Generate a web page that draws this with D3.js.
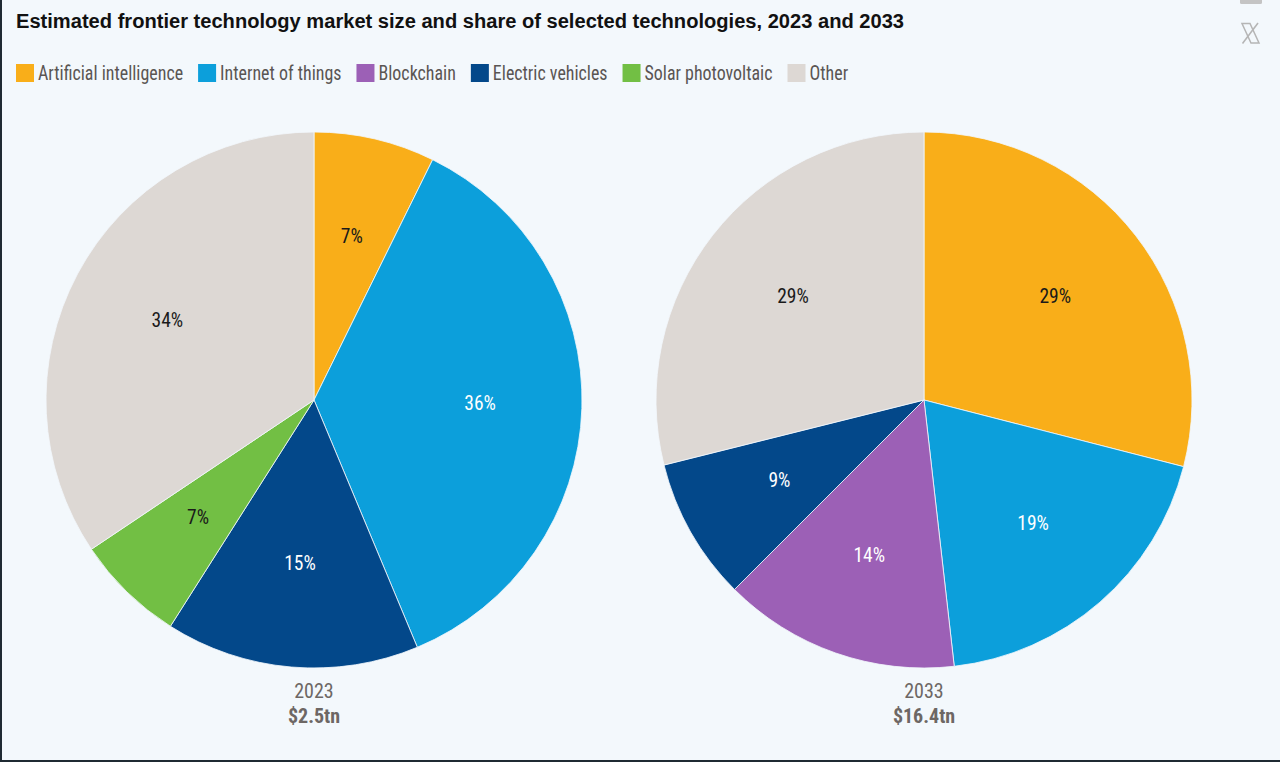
<!DOCTYPE html>
<html>
<head>
<meta charset="utf-8">
<script src="https://cdn.jsdelivr.net/npm/d3@7/dist/d3.min.js"></script>
<style>
  html, body { margin: 0; padding: 0; background: #f3f8fc; }
  svg { display: block; }
</style>
</head>
<body>
<svg id="chart" width="1280" height="762"></svg>
<script>
// ---- data ----
const categories = ["Artificial intelligence", "Internet of things", "Blockchain", "Electric vehicles", "Solar photovoltaic", "Other"];
const colors = ["#f9ae19", "#0c9fdb", "#9c60b6", "#03488a", "#72bf44", "#ddd8d4"];
const labelColors = ["#1a1a1a", "#ffffff", "#ffffff", "#ffffff", "#1a1a1a", "#1a1a1a"];
const years = ["2023", "2033"];
const totals = ["$2.5tn", "$16.4tn"];
const share2023 = [7.3, 36.4, 0, 15.3, 6.6, 34.4];
const share2033 = [29.0, 19.2, 14.3, 8.6, 0, 28.9];
const title = "Estimated frontier technology market size and share of selected technologies, 2023 and 2033";

const svg = d3.select("#chart");
const W = 1280, H = 762;
const narrow = "'Liberation Sans Narrow', 'Arial Narrow', 'Roboto Condensed', 'Liberation Sans', sans-serif";
const sans = "'Liberation Sans', Arial, Helvetica, sans-serif";

svg.append("rect").attr("width", W).attr("height", H).attr("fill", "#f3f8fc");
// borders
svg.append("rect").attr("x", 0).attr("y", 0).attr("width", 2).attr("height", H).attr("fill", "#1f2a33");
svg.append("rect").attr("x", 0).attr("y", H - 2).attr("width", W).attr("height", 2).attr("fill", "#1f2a33");

// title
const tt = svg.append("text").attr("x", 16).attr("y", 28)
  .attr("font-family", sans).attr("font-weight", "bold").attr("font-size", 20)
  .attr("fill", "#111").text(title);
const tw = tt.node().getComputedTextLength();
if (tw > 0) tt.attr("textLength", 888).attr("lengthAdjust", "spacingAndGlyphs");

// icons top right
svg.append("rect").attr("x", 1240).attr("y", -4).attr("width", 22).attr("height", 8).attr("rx", 1.5).attr("fill", "#c4c4c4");
const xg = svg.append("g").attr("stroke", "#b5b5b5").attr("fill", "none");
xg.append("path").attr("d", "M1242,23.5 L1250,23.5 L1259,43 L1251,43 Z").attr("stroke-width", 1.5);
xg.append("path").attr("d", "M1258,23 L1242.5,43.5").attr("stroke-width", 1.6);

// legend
const legend = svg.append("g").attr("transform", "translate(16,73)");
const sx = 0.92;
let lx = 0;
categories.forEach((c, i) => {
  const g = legend.append("g").attr("transform", `translate(${lx},0)`);
  g.append("rect").attr("x", 0).attr("y", -9).attr("width", 18).attr("height", 18).attr("fill", colors[i]);
  const t = g.append("text").attr("x", 0).attr("y", 6.5)
    .attr("transform", `translate(22,0) scale(${sx},1)`)
    .attr("font-family", narrow).attr("font-size", 19.5).attr("fill", "#5a5553").text(c);
  lx += 22 + t.node().getComputedTextLength() * sx + 15;
});

// pies
const R = 268;
const centers = [[314, 400], [924, 400]];
const series = [share2023, share2033];
const pie = d3.pie().sort(null).value(d => d.v);
const arc = d3.arc().innerRadius(0).outerRadius(R);
const labelArc = d3.arc().innerRadius(R * 0.62).outerRadius(R * 0.62);

series.forEach((vals, k) => {
  const data = vals.map((v, i) => ({ v, i })).filter(d => d.v > 0);
  const g = svg.append("g").attr("transform", `translate(${centers[k][0]},${centers[k][1]})`);
  const arcs = pie(data);
  g.selectAll("path").data(arcs).join("path")
    .attr("d", arc).attr("fill", d => colors[d.data.i])
    .attr("stroke", "#f3f8fc").attr("stroke-width", 1).attr("stroke-opacity", 0.8);
  g.selectAll("text.lbl").data(arcs).join("text").attr("class", "lbl")
    .attr("transform", d => { const c = labelArc.centroid(d); return `translate(${c[0]},${c[1] - 2})`; })
    .attr("text-anchor", "middle").attr("dy", "0.35em")
    .attr("font-family", narrow).attr("font-size", 19.5)
    .attr("fill", d => labelColors[d.data.i])
    .text(d => Math.round(d.data.v) + "%");
  g.append("text").attr("x", 0).attr("y", R + 30).attr("text-anchor", "middle")
    .attr("font-family", narrow).attr("font-size", 20).attr("fill", "#6d6764").text(years[k]);
  g.append("text").attr("x", 0).attr("y", R + 55).attr("text-anchor", "middle")
    .attr("font-family", narrow).attr("font-weight", "bold").attr("font-size", 20).attr("fill", "#6d6764").text(totals[k]);
});
</script>
</body>
</html>
